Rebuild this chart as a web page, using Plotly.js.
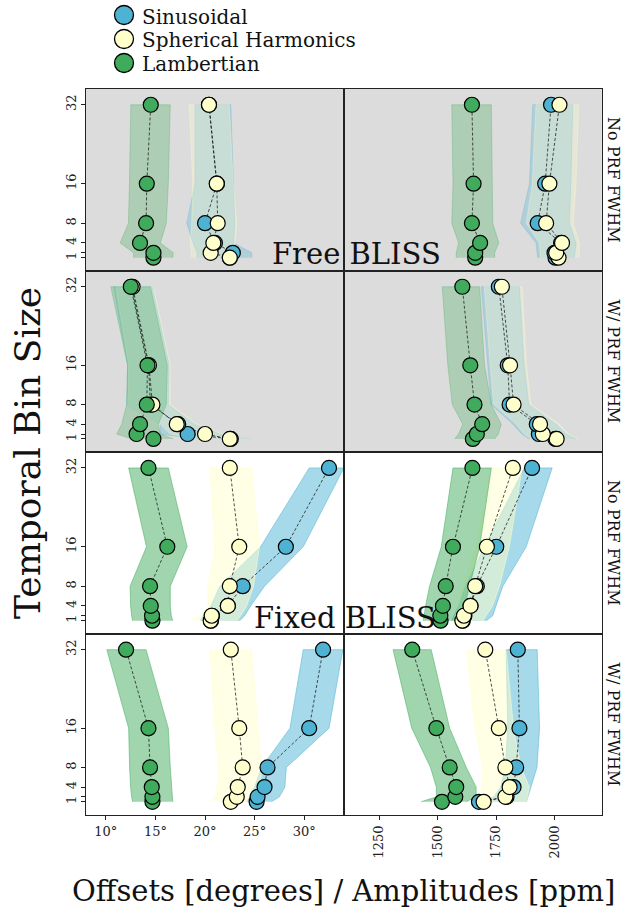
<!DOCTYPE html>
<html><head><meta charset="utf-8">
<script src="https://cdn.plot.ly/plotly-3.0.1.min.js"></script>
<style>html,body{margin:0;padding:0;background:#fff}#chart{width:623px;height:908px}</style>
</head><body><div id="chart"></div>
<script>
// ---------- data ----------
const binSizes = [1, 2, 4, 8, 16, 32];
const seriesNames = ['Sinusoidal', 'Spherical Harmonics', 'Lambertian'];
const yTickVals = [1, 2, 4, 8, 16, 32];
const yTickText = ['1', '', '4', '8', '16', '32'];
const offTickVals = [10, 15, 20, 25, 30];
const offTickText = ['10°', '15°', '20°', '25°', '30°'];
const ampTickVals = [1250, 1500, 1750, 2000];
const ampTickText = ['1250', '1500', '1750', '2000'];
const rowLabels = ['No PRF FWHM', 'W/ PRF FWHM', 'No PRF FWHM', 'W/ PRF FWHM'];

// values ordered by bin size 1,2,4,8,16,32
// Free BLISS, No PRF FWHM, offsets [deg]
const freeNoOff_sin    = [22.5, 22.8, 21.0, 20.0, 21.2, 20.4];
const freeNoOff_sin_lo = [19.2, 19.2, 18.8, 18.15, 19.0, 19.0];
const freeNoOff_sin_hi = [24.7, 24.7, 22.9, 23.0, 22.9, 22.6];
const freeNoOff_sph    = [22.5, 20.57, 20.84, 21.28, 21.18, 20.4];
const freeNoOff_sph_lo = [18.66, 18.6, 18.5, 18.66, 18.76, 18.4];
const freeNoOff_sph_hi = [23.35, 23.3, 23.0, 23.2, 22.85, 22.45];
const freeNoOff_lam    = [14.8, 14.8, 13.45, 14.06, 14.13, 14.53];
const freeNoOff_lam_lo = [12.8, 12.8, 11.44, 12.28, 12.38, 12.52];
const freeNoOff_lam_hi = [16.75, 16.8, 15.5, 16.1, 16.3, 16.5];
// Free BLISS, No PRF FWHM, amplitudes [ppm]
const freeNoAmp_sin    = [2004, 2000, 2028, 1928, 1960, 1985];
const freeNoAmp_sin_lo = [1928, 1925, 1921, 1855, 1893, 1907];
const freeNoAmp_sin_hi = [2085, 2088, 2092, 2063, 2070, 2078];
const freeNoAmp_sph    = [2017, 2007, 2032, 1964, 1978, 2021];
const freeNoAmp_sph_lo = [1940, 1938, 1935, 1879, 1905, 1921];
const freeNoAmp_sph_hi = [2106, 2106, 2106, 2080, 2092, 2103];
const freeNoAmp_lam    = [1661, 1661, 1682, 1647, 1654, 1647];
const freeNoAmp_lam_lo = [1580, 1580, 1590, 1561, 1566, 1561];
const freeNoAmp_lam_hi = [1744, 1744, 1762, 1736, 1734, 1730];
// Free BLISS, W/ PRF FWHM, offsets
const freeWOff_sin    = [22.6, 18.25, 17.3, 14.5, 14.3, 12.6];
const freeWOff_sin_lo = [19.2, 15.5, 15.5, 12.1, 12.2, 10.8];
const freeWOff_sin_hi = [24.7, 21.5, 19.0, 16.3, 16.4, 14.7];
const freeWOff_sph    = [22.5, 20.0, 17.15, 14.7, 14.35, 12.7];
const freeWOff_sph_lo = [19.2, 16.5, 15.5, 12.2, 12.3, 11.0];
const freeWOff_sph_hi = [24.7, 21.8, 19.2, 16.5, 16.5, 14.8];
const freeWOff_lam    = [14.8, 13.1, 13.45, 14.13, 14.2, 12.52];
const freeWOff_lam_lo = [12.6, 11.1, 11.6, 12.1, 12.2, 10.5];
const freeWOff_lam_hi = [16.8, 15.5, 15.3, 16.1, 16.2, 14.5];
// Free BLISS, W/ PRF FWHM, amplitudes
const freeWAmp_sin    = [2004, 1933, 1924, 1808, 1800, 1762];
const freeWAmp_sin_lo = [1893, 1860, 1822, 1729, 1715, 1687];
const freeWAmp_sin_hi = [2092, 2050, 2007, 1890, 1870, 1850];
const freeWAmp_sph    = [2009, 1950, 1938, 1825, 1810, 1775];
const freeWAmp_sph_lo = [1900, 1870, 1836, 1740, 1725, 1700];
const freeWAmp_sph_hi = [2099, 2060, 2021, 1900, 1880, 1862];
const freeWAmp_lam    = [1651, 1668, 1691, 1658, 1640, 1606];
const freeWAmp_lam_lo = [1573, 1590, 1608, 1563, 1544, 1520];
const freeWAmp_lam_hi = [1744, 1760, 1772, 1730, 1701, 1680];
// Fixed BLISS, No PRF FWHM, offsets
const fixedNoOff_sin    = [20.6, 20.7, 22.3, 23.8, 28.15, 32.5];
const fixedNoOff_sin_lo = [19.5, 19.8, 20.6, 21.5, 25.6, 30.5];
const fixedNoOff_sin_hi = [23.5, 24.0, 24.6, 26.0, 29.9, 34.0];
const fixedNoOff_sph    = [20.57, 20.67, 22.3, 22.5, 23.45, 22.5];
const fixedNoOff_sph_lo = [18.5, 19.5, 20.3, 20.3, 21.0, 20.5];
const fixedNoOff_sph_hi = [23.2, 23.6, 24.2, 24.9, 25.5, 24.7];
const fixedNoOff_lam    = [14.7, 14.66, 14.53, 14.46, 16.2, 14.3];
const fixedNoOff_lam_lo = [12.7, 12.6, 12.5, 12.45, 14.1, 12.3];
const fixedNoOff_lam_hi = [16.75, 16.6, 16.5, 16.5, 18.2, 16.3];
// Fixed BLISS, No PRF FWHM, amplitudes
const fixedNoAmp_sin    = [1608, 1615, 1641, 1668, 1751, 1904];
const fixedNoAmp_sin_lo = [1560, 1570, 1590, 1620, 1700, 1871];
const fixedNoAmp_sin_hi = [1708, 1736, 1750, 1779, 1879, 1990];
const fixedNoAmp_sph    = [1606, 1613, 1641, 1661, 1711, 1822];
const fixedNoAmp_sph_lo = [1566, 1575, 1590, 1610, 1665, 1730];
const fixedNoAmp_sph_hi = [1694, 1710, 1735, 1765, 1807, 1862];
const fixedNoAmp_lam    = [1513, 1512, 1523, 1535, 1566, 1649];
const fixedNoAmp_lam_lo = [1438, 1443, 1449, 1466, 1516, 1566];
const fixedNoAmp_lam_hi = [1594, 1605, 1616, 1637, 1680, 1730];
// Fixed BLISS, W/ PRF FWHM, offsets
const fixedWOff_sin    = [25.2, 25.3, 26.0, 26.3, 30.5, 31.9];
const fixedWOff_sin_lo = [24.2, 24.5, 25.0, 25.7, 28.56, 29.9];
const fixedWOff_sin_hi = [26.7, 27.5, 28.05, 28.2, 32.5, 33.9];
const fixedWOff_sph    = [22.6, 23.2, 23.3, 23.8, 23.45, 22.6];
const fixedWOff_sph_lo = [20.5, 21.0, 21.2, 21.35, 21.0, 20.5];
const fixedWOff_sph_hi = [24.9, 25.3, 25.6, 25.7, 25.4, 24.7];
const fixedWOff_lam    = [14.7, 14.7, 14.63, 14.46, 14.3, 12.04];
const fixedWOff_lam_lo = [12.7, 12.6, 12.5, 12.4, 12.3, 10.1];
const fixedWOff_lam_hi = [16.75, 16.7, 16.6, 16.5, 16.3, 14.06];
// Fixed BLISS, W/ PRF FWHM, amplitudes
const fixedWAmp_sin    = [1677, 1795, 1825, 1836, 1850, 1843];
const fixedWAmp_sin_lo = [1680, 1740, 1770, 1790, 1800, 1793];
const fixedWAmp_sin_hi = [1880, 1885, 1900, 1925, 1936, 1926];
const fixedWAmp_sph    = [1697, 1790, 1808, 1790, 1762, 1704];
const fixedWAmp_sph_lo = [1640, 1680, 1690, 1694, 1660, 1623];
const fixedWAmp_sph_hi = [1879, 1885, 1893, 1857, 1825, 1793];
const fixedWAmp_lam    = [1519, 1576, 1580, 1552, 1495, 1392];
const fixedWAmp_lam_lo = [1430, 1495, 1495, 1470, 1390, 1310];
const fixedWAmp_lam_hi = [1623, 1665, 1665, 1623, 1552, 1473];

// ---------- assembly ----------
const panels = [
  [[freeNoOff_sin, freeNoOff_sin_lo, freeNoOff_sin_hi], [freeNoOff_sph, freeNoOff_sph_lo, freeNoOff_sph_hi], [freeNoOff_lam, freeNoOff_lam_lo, freeNoOff_lam_hi]],
  [[freeNoAmp_sin, freeNoAmp_sin_lo, freeNoAmp_sin_hi], [freeNoAmp_sph, freeNoAmp_sph_lo, freeNoAmp_sph_hi], [freeNoAmp_lam, freeNoAmp_lam_lo, freeNoAmp_lam_hi]],
  [[freeWOff_sin, freeWOff_sin_lo, freeWOff_sin_hi], [freeWOff_sph, freeWOff_sph_lo, freeWOff_sph_hi], [freeWOff_lam, freeWOff_lam_lo, freeWOff_lam_hi]],
  [[freeWAmp_sin, freeWAmp_sin_lo, freeWAmp_sin_hi], [freeWAmp_sph, freeWAmp_sph_lo, freeWAmp_sph_hi], [freeWAmp_lam, freeWAmp_lam_lo, freeWAmp_lam_hi]],
  [[fixedNoOff_sin, fixedNoOff_sin_lo, fixedNoOff_sin_hi], [fixedNoOff_sph, fixedNoOff_sph_lo, fixedNoOff_sph_hi], [fixedNoOff_lam, fixedNoOff_lam_lo, fixedNoOff_lam_hi]],
  [[fixedNoAmp_sin, fixedNoAmp_sin_lo, fixedNoAmp_sin_hi], [fixedNoAmp_sph, fixedNoAmp_sph_lo, fixedNoAmp_sph_hi], [fixedNoAmp_lam, fixedNoAmp_lam_lo, fixedNoAmp_lam_hi]],
  [[fixedWOff_sin, fixedWOff_sin_lo, fixedWOff_sin_hi], [fixedWOff_sph, fixedWOff_sph_lo, fixedWOff_sph_hi], [fixedWOff_lam, fixedWOff_lam_lo, fixedWOff_lam_hi]],
  [[fixedWAmp_sin, fixedWAmp_sin_lo, fixedWAmp_sin_hi], [fixedWAmp_sph, fixedWAmp_sph_lo, fixedWAmp_sph_hi], [fixedWAmp_lam, fixedWAmp_lam_lo, fixedWAmp_lam_hi]]
];

const colors = [[78, 179, 211], [255, 255, 204], [65, 171, 93]];
const SERIF = 'DejaVu Serif, serif';
const colDom = [[0.138, 0.552], [0.552, 0.966]];
const rowDom = [[0.7015, 0.902], [0.502, 0.7015], [0.3018, 0.502], [0.1024, 0.3018]];

const bands = [], lines = [], markers = [];
const layout = {
  width: 623, height: 908,
  margin: {l: 0, r: 0, t: 0, b: 0},
  paper_bgcolor: '#fff', plot_bgcolor: 'rgba(0,0,0,0)',
  showlegend: false,
  shapes: [{type: 'rect', xref: 'paper', yref: 'paper', x0: 0.138, x1: 0.966, y0: 0.502, y1: 0.902,
            fillcolor: '#dcdcdc', line: {width: 0}, layer: 'below'}],
  annotations: []
};

panels.forEach((panel, i) => {
  const row = Math.floor(i / 2), col = i % 2;
  const n = i + 1;
  const xa = 'x' + n, ya = 'y' + n;
  const alpha = row < 2 ? 0.3 : 0.5;
  panel.forEach((s, k) => {
    const [val, lo, hi] = s;
    const c = colors[k];
    bands.push({
      type: 'scatter', mode: 'lines', xaxis: xa, yaxis: ya,
      x: lo.concat(hi.slice().reverse()), y: binSizes.concat(binSizes.slice().reverse()),
      fill: 'toself', fillcolor: `rgba(${c[0]},${c[1]},${c[2]},${alpha})`,
      line: {color: `rgba(${c[0]},${c[1]},${c[2]},${alpha})`, width: 1},
      hoverinfo: 'skip'
    });
    lines.push({
      type: 'scatter', mode: 'lines', xaxis: xa, yaxis: ya, x: val, y: binSizes,
      line: {color: '#222', width: 0.8, dash: '3px,2px'}, hoverinfo: 'skip'
    });
    markers.push({
      type: 'scatter', mode: 'markers', xaxis: xa, yaxis: ya, x: val, y: binSizes,
      name: seriesNames[k],
      marker: {size: 15, color: `rgb(${c[0]},${c[1]},${c[2]})`, line: {color: '#000', width: 1.2}}
    });
  });
  const bottom = row === 3;
  layout['xaxis' + (n === 1 ? '' : n)] = {
    domain: colDom[col], anchor: ya,
    range: col === 0 ? [8, 34] : [1100, 2202],
    tickvals: col === 0 ? offTickVals : ampTickVals,
    ticktext: col === 0 ? offTickText : ampTickText,
    tickangle: col === 0 ? 0 : -90,
    showticklabels: bottom, ticks: bottom ? 'outside' : '', ticklen: 4, tickcolor: '#222',
    tickfont: {family: SERIF, size: 13, color: '#222'},
    showline: true, mirror: true, linecolor: '#222', linewidth: 1.2,
    showgrid: false, zeroline: false
  };
  layout['yaxis' + (n === 1 ? '' : n)] = {
    domain: rowDom[row], anchor: xa,
    range: [-1.7, 35.2],
    tickvals: yTickVals, ticktext: yTickText, tickangle: -90,
    showticklabels: col === 0, ticks: col === 0 ? 'outside' : '', ticklen: 4, tickcolor: '#222',
    tickfont: {family: SERIF, size: 13, color: '#222'},
    showline: true, mirror: true, linecolor: '#222', linewidth: 1.2,
    showgrid: false, zeroline: false
  };
});

// ---------- manual legend (pixel-space helper axis) ----------
const legendPx = [15, 39, 63];
layout.xaxis9 = {domain: [0, 1], range: [0, 623], visible: false, fixedrange: true, anchor: 'y9'};
layout.yaxis9 = {domain: [0, 1], range: [908, 0], visible: false, fixedrange: true, anchor: 'x9'};
const legendTrace = {
  type: 'scatter', mode: 'markers', xaxis: 'x9', yaxis: 'y9',
  x: [124, 124, 124], y: legendPx,
  marker: {size: 19, color: colors.map(c => `rgb(${c[0]},${c[1]},${c[2]})`), line: {color: '#000', width: 1.3}},
  hoverinfo: 'skip'
};
seriesNames.forEach((t, k) => {
  layout.annotations.push({text: t, xref: 'paper', yref: 'paper', x: 140 / 623, y: 1 - (legendPx[k] + 1.5) / 908,
    xanchor: 'left', yanchor: 'middle', showarrow: false, font: {family: SERIF, size: 20, color: '#111'}});
});

// row labels on the right
const rowCenters = [0.8018, 0.6019, 0.402, 0.2021];
rowLabels.forEach((t, r) => {
  layout.annotations.push({text: t, xref: 'paper', yref: 'paper', x: 0.984, y: rowCenters[r],
    xanchor: 'center', yanchor: 'middle', textangle: 90, showarrow: false,
    font: {family: SERIF, size: 16, color: '#111'}});
});
layout.annotations.push({text: 'Free BLISS', xref: 'paper', yref: 'paper', x: 0.572, y: 0.7208,
  xanchor: 'center', yanchor: 'middle', showarrow: false, font: {family: SERIF, size: 29, color: '#111'}});
layout.annotations.push({text: 'Fixed BLISS', xref: 'paper', yref: 'paper', x: 0.553, y: 0.3199,
  xanchor: 'center', yanchor: 'middle', showarrow: false, font: {family: SERIF, size: 29, color: '#111'}});
layout.annotations.push({text: 'Temporal Bin Size', xref: 'paper', yref: 'paper', x: 0.043, y: 0.501,
  xanchor: 'center', yanchor: 'middle', textangle: -90, showarrow: false, font: {family: SERIF, size: 36, color: '#111'}});
layout.annotations.push({text: 'Offsets [degrees] / Amplitudes [ppm]', xref: 'paper', yref: 'paper', x: 0.552, y: 0.0187,
  xanchor: 'center', yanchor: 'middle', showarrow: false, font: {family: SERIF, size: 29, color: '#111'}});

Plotly.newPlot('chart', bands.concat(lines, markers, [legendTrace]), layout, {displayModeBar: false, staticPlot: true});
</script>
</body></html>
